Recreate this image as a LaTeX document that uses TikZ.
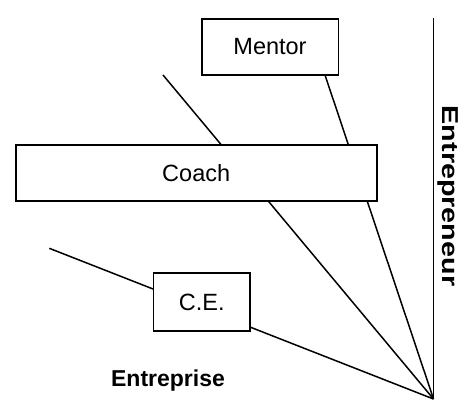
\documentclass[tikz,border=0pt]{standalone}
\usepackage{fontspec}
\setmainfont{Liberation Sans}
\begin{document}
\begin{tikzpicture}[x=1pt,y=-1pt,
  box/.style={draw,line width=1.6pt,fill=white,minimum height=56pt,inner sep=0pt,font=\fontsize{23.5}{28}\selectfont},
  ray/.style={line width=1.5pt},
  lbl/.style={font=\bfseries\fontsize{23}{28}\selectfont,inner sep=0pt}]
\useasboundingbox (0,0) rectangle (468,400);
\coordinate (O) at (433.5,399);
\coordinate (top) at (433.5,18);
\coordinate (m1) at (325,75);
\coordinate (c1) at (163,75);
\coordinate (e1) at (49.3,248.3);
\draw[ray] (top) -- (O);
\draw[ray] (O) -- (m1);
\draw[ray] (O) -- (c1);
\draw[ray] (O) -- (e1);
\node[box,minimum width=136.6pt] (mentor) at (270,47) {Mentor};
\node[box,minimum width=361pt] (coach) at (196.2,173) {Coach};
\node[box,minimum width=96.3pt,minimum height=58pt] (ce) at (201.8,302) {C.E.};
\node[lbl] (entreprise) at (168,381) {Entreprise};
\node[lbl,rotate=-90] (entrepreneur) at (448.5,196) {\scalebox{1.25}[1]{Entrepreneur}};
\end{tikzpicture}
\end{document}
